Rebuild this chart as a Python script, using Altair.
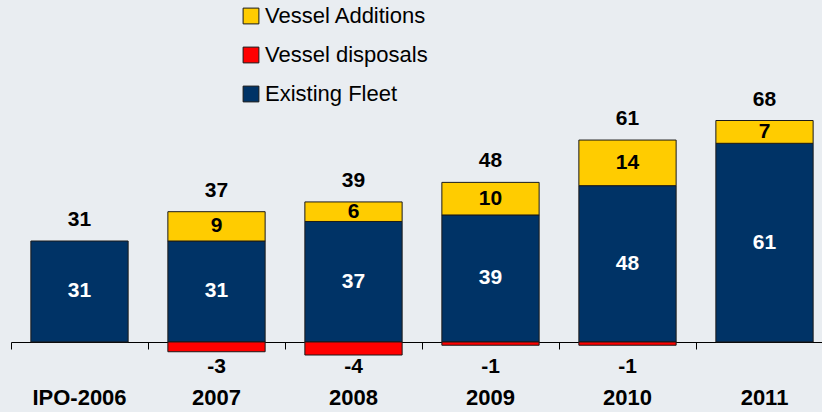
import altair as alt
import pandas as pd

# Fleet development per year
categories = ["IPO-2006", "2007", "2008", "2009", "2010", "2011"]
existing_fleet = [31, 31, 37, 39, 48, 61]
vessel_additions = [0, 9, 6, 10, 14, 7]
vessel_disposals = [0, -3, -4, -1, -1, 0]

series_names = ["Vessel Additions", "Vessel disposals", "Existing Fleet"]
series_colors = ["#FFCC00", "#FF0000", "#003366"]
stack_order = {"Existing Fleet": 0, "Vessel Additions": 1, "Vessel disposals": 2}

rows = []
for cat, ex, add, disp in zip(categories, existing_fleet, vessel_additions, vessel_disposals):
    for name, val in (("Existing Fleet", ex), ("Vessel Additions", add), ("Vessel disposals", disp)):
        if val != 0:
            rows.append({"cat": cat, "series": name, "value": val, "ord": stack_order[name]})
bars_df = pd.DataFrame(rows)

summary_df = pd.DataFrame({
    "cat": categories,
    "existing": existing_fleet,
    "additions": vessel_additions,
    "disposals": vessel_disposals,
})
summary_df["existing_mid"] = summary_df["existing"] / 2
summary_df["add_mid"] = summary_df["existing"] + summary_df["additions"] / 2
summary_df["top"] = summary_df["existing"] + summary_df["additions"]
summary_df["net"] = summary_df["existing"] + summary_df["additions"] + summary_df["disposals"]
# plain hyphen for negative numbers
summary_df["disposal_label"] = summary_df["disposals"].astype(str)
disposal_floor = min(vessel_disposals)

FONT = "Liberation Sans"

x_enc = alt.X(
    "cat:N",
    sort=categories,
    scale=alt.Scale(range=[0, 822], paddingInner=0, paddingOuter=0),
    axis=alt.Axis(
        title=None,
        orient="bottom",
        offset=-70,
        bandPosition=0,
        domainColor="black",
        tickColor="black",
        tickSize=7,
        labelPadding=38,
        labelFont=FONT,
        labelFontSize=22,
        labelFontWeight="bold",
        labelColor="black",
        labelAngle=0,
        grid=False,
    ),
)
y_scale = alt.Scale(domain=[-21.5, 105], nice=False, zero=False)

bars = alt.Chart(bars_df).mark_bar(
    width=alt.RelativeBandSize(0.71), stroke="#1a1a1a", strokeWidth=1
).encode(
    x=x_enc,
    y=alt.Y("value:Q", stack="zero", scale=y_scale, axis=None),
    color=alt.Color(
        "series:N",
        scale=alt.Scale(domain=series_names, range=series_colors),
        legend=alt.Legend(
            title=None,
            orient="none",
            legendX=229,
            legendY=5,
            symbolType="square",
            symbolSize=250,
            symbolStrokeColor="#1a1a1a",
            symbolStrokeWidth=1,
            labelFont=FONT,
            labelFontSize=22,
            labelColor="black",
            labelOffset=3,
            labelLimit=400,
            rowPadding=17,
        ),
    ),
    order=alt.Order("ord:Q"),
)

base = alt.Chart(summary_df)
text_style = dict(font=FONT, fontSize=21, fontWeight="bold", baseline="middle", align="center")

existing_text = base.mark_text(color="white", **text_style).encode(
    x=alt.X("cat:N", sort=categories), y=alt.Y("existing_mid:Q", scale=y_scale), text="existing:Q"
)
additions_text = base.transform_filter("datum.additions > 0").mark_text(color="black", **text_style).encode(
    x=alt.X("cat:N", sort=categories), y=alt.Y("add_mid:Q", scale=y_scale), text="additions:Q"
)
total_text = base.mark_text(color="black", dy=-21, **text_style).encode(
    x=alt.X("cat:N", sort=categories), y=alt.Y("top:Q", scale=y_scale), text="net:Q"
)
disposal_text = base.transform_filter("datum.disposals < 0").mark_text(color="black", dy=12, **text_style).encode(
    x=alt.X("cat:N", sort=categories), y=alt.datum(disposal_floor, scale=y_scale), text="disposal_label:N"
)

chart = alt.layer(bars, existing_text, additions_text, total_text, disposal_text).properties(
    width=811,
    height=412,
    background="#e9edf1",
    padding={"left": 11, "top": 0, "right": 0, "bottom": 0},
    autosize=alt.AutoSizeParams(type="none"),
).configure_view(stroke=None)

chart.save("out.html", embed_options={"renderer": "svg", "actions": False})
